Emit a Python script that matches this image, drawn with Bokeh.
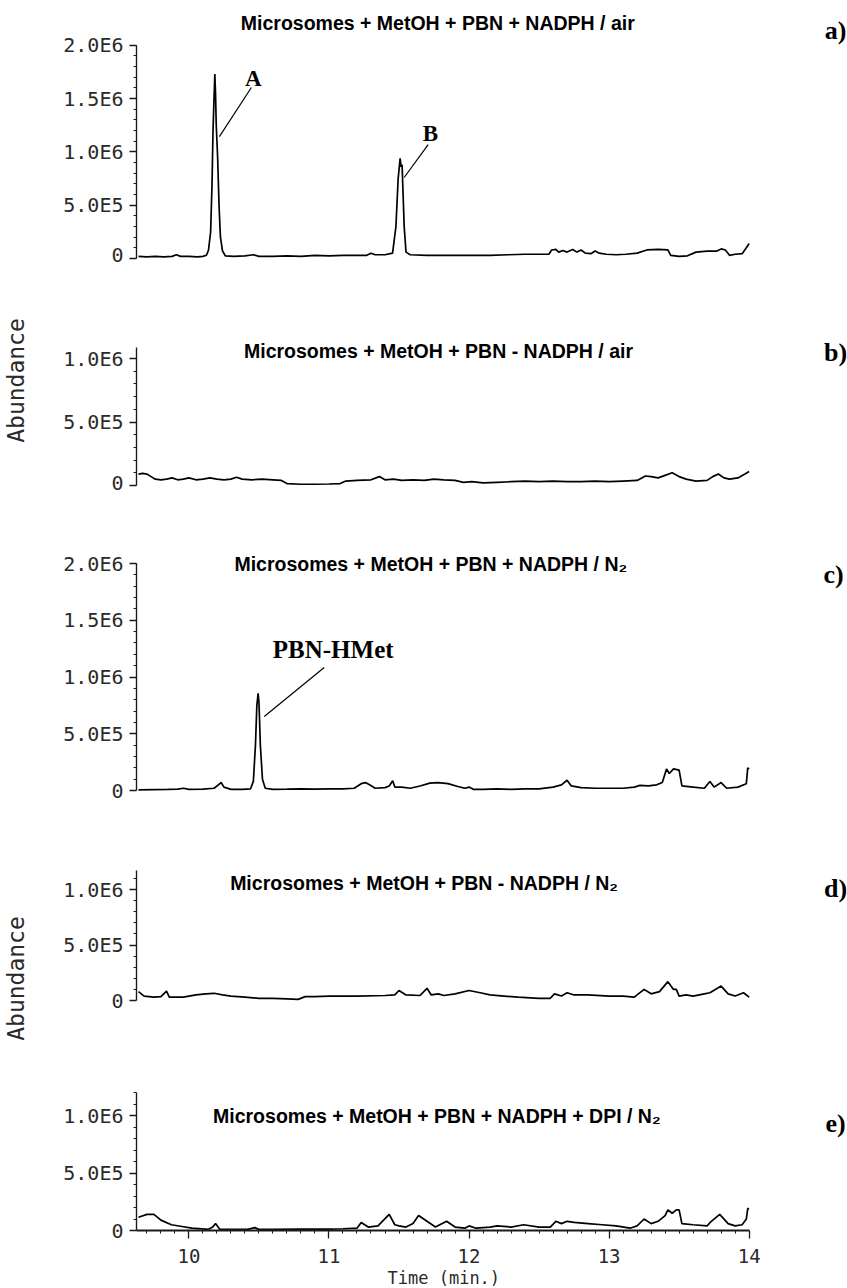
from math import pi, floor
from bokeh.plotting import figure
from bokeh.layouts import column
from bokeh.models import Range1d, FixedTicker, Label, Title
from bokeh.embed import file_html
from bokeh.resources import INLINE

# ---------------- data: (time [min], abundance [millions]) ----------------
trace_a = [(9.64,0.02),(9.70,0.015),(9.76,0.02),(9.82,0.015),(9.88,0.02),(9.91,0.035),(9.94,0.02),(10.00,0.02),
           (10.06,0.015),(10.10,0.02),(10.125,0.03),(10.14,0.08),(10.155,0.25),(10.165,0.7),(10.172,1.2),(10.178,1.45),
           (10.185,1.73),(10.19,1.55),(10.195,1.25),(10.205,0.95),(10.215,0.5),(10.225,0.2),(10.24,0.07),(10.26,0.025),
           (10.32,0.02),(10.40,0.025),(10.46,0.035),(10.50,0.02),(10.60,0.02),(10.70,0.025),(10.80,0.02),(10.90,0.03),
           (11.00,0.025),(11.10,0.03),(11.20,0.03),(11.27,0.03),(11.30,0.05),(11.33,0.035),(11.40,0.035),(11.454,0.05),
           (11.478,0.3),(11.494,0.75),(11.508,0.94),(11.515,0.86),(11.522,0.88),(11.537,0.3),(11.55,0.06),(11.58,0.035),
           (11.70,0.03),(11.85,0.03),(12.00,0.03),(12.15,0.03),(12.28,0.035),(12.40,0.04),(12.50,0.04),(12.57,0.04),
           (12.59,0.08),(12.62,0.085),(12.64,0.06),(12.67,0.075),(12.70,0.06),(12.74,0.085),(12.77,0.06),(12.80,0.08),
           (12.83,0.05),(12.87,0.045),(12.90,0.07),(12.93,0.05),(12.98,0.04),(13.05,0.035),(13.12,0.04),(13.20,0.05),
           (13.27,0.08),(13.35,0.085),(13.42,0.08),(13.44,0.03),(13.50,0.02),(13.56,0.025),(13.62,0.06),(13.70,0.07),
           (13.77,0.07),(13.80,0.09),(13.83,0.08),(13.86,0.03),(13.90,0.04),(13.95,0.045),(13.98,0.1),(14.00,0.14)]

trace_b = [(9.64,0.09),(9.67,0.095),(9.70,0.09),(9.73,0.07),(9.76,0.05),(9.80,0.045),(9.84,0.05),(9.88,0.06),
           (9.92,0.045),(9.96,0.05),(10.00,0.06),(10.05,0.045),(10.10,0.05),(10.15,0.06),(10.20,0.05),(10.25,0.045),
           (10.30,0.05),(10.34,0.065),(10.38,0.05),(10.45,0.045),(10.52,0.05),(10.60,0.045),(10.66,0.04),(10.70,0.015),
           (10.80,0.01),(10.90,0.01),(11.00,0.012),(11.08,0.015),(11.12,0.035),(11.20,0.04),(11.30,0.045),(11.36,0.07),
           (11.40,0.045),(11.46,0.05),(11.52,0.04),(11.60,0.045),(11.68,0.04),(11.75,0.05),(11.82,0.045),(11.90,0.04),
           (11.96,0.025),(12.02,0.03),(12.10,0.02),(12.20,0.025),(12.30,0.03),(12.40,0.035),(12.50,0.03),(12.60,0.035),
           (12.70,0.03),(12.80,0.03),(12.90,0.035),(13.00,0.03),(13.10,0.035),(13.20,0.04),(13.26,0.075),(13.30,0.07),
           (13.35,0.06),(13.40,0.08),(13.45,0.1),(13.50,0.07),(13.55,0.05),(13.62,0.035),(13.70,0.04),(13.74,0.07),
           (13.78,0.09),(13.82,0.06),(13.86,0.05),(13.92,0.06),(13.97,0.09),(14.00,0.11)]

trace_c = [(9.64,0.005),(9.75,0.008),(9.85,0.01),(9.92,0.012),(9.96,0.02),(10.00,0.01),(10.10,0.012),(10.18,0.02),
           (10.21,0.05),(10.23,0.07),(10.25,0.03),(10.30,0.01),(10.38,0.01),(10.44,0.015),(10.46,0.08),(10.475,0.4),
           (10.485,0.75),(10.494,0.855),(10.50,0.78),(10.51,0.4),(10.525,0.1),(10.545,0.02),(10.60,0.01),(10.70,0.012),
           (10.80,0.015),(10.90,0.012),(11.00,0.015),(11.10,0.015),(11.18,0.02),(11.23,0.06),(11.26,0.07),(11.29,0.05),
           (11.33,0.02),(11.40,0.025),(11.43,0.04),(11.455,0.085),(11.47,0.03),(11.52,0.03),(11.58,0.02),(11.65,0.04),
           (11.72,0.065),(11.78,0.07),(11.85,0.06),(11.92,0.035),(11.97,0.02),(12.00,0.03),(12.03,0.01),(12.10,0.01),
           (12.20,0.015),(12.30,0.01),(12.40,0.015),(12.50,0.015),(12.60,0.03),(12.66,0.05),(12.70,0.09),(12.73,0.04),
           (12.80,0.025),(12.90,0.02),(13.00,0.02),(13.10,0.02),(13.18,0.03),(13.22,0.045),(13.28,0.04),(13.34,0.05),
           (13.38,0.07),(13.41,0.19),(13.43,0.15),(13.46,0.19),(13.50,0.18),(13.52,0.04),(13.60,0.03),(13.68,0.02),
           (13.72,0.08),(13.75,0.03),(13.80,0.07),(13.84,0.02),(13.92,0.03),(13.98,0.06),(13.99,0.2),(14.00,0.19)]

trace_d = [(9.64,0.08),(9.68,0.04),(9.75,0.03),(9.80,0.035),(9.84,0.085),(9.86,0.03),(9.90,0.03),(9.96,0.03),
           (10.05,0.05),(10.12,0.06),(10.18,0.065),(10.24,0.05),(10.30,0.04),(10.40,0.03),(10.50,0.02),(10.60,0.02),
           (10.70,0.015),(10.78,0.01),(10.83,0.035),(10.90,0.035),(11.00,0.04),(11.20,0.04),(11.40,0.045),(11.47,0.05),
           (11.50,0.09),(11.55,0.05),(11.65,0.045),(11.70,0.11),(11.73,0.05),(11.78,0.06),(11.82,0.045),(11.90,0.06),
           (12.00,0.09),(12.08,0.07),(12.15,0.05),(12.25,0.04),(12.35,0.03),(12.50,0.02),(12.58,0.02),(12.61,0.06),
           (12.66,0.04),(12.70,0.07),(12.75,0.05),(12.85,0.05),(13.00,0.04),(13.10,0.04),(13.18,0.03),(13.25,0.1),
           (13.30,0.06),(13.36,0.08),(13.42,0.17),(13.46,0.1),(13.48,0.1),(13.50,0.04),(13.55,0.05),(13.60,0.04),
           (13.68,0.06),(13.72,0.07),(13.80,0.13),(13.85,0.06),(13.90,0.04),(13.96,0.07),(14.00,0.03)]

trace_e = [(9.64,0.115),(9.70,0.14),(9.75,0.14),(9.80,0.09),(9.875,0.05),(9.95,0.035),(10.02,0.02),(10.14,0.01),
           (10.17,0.03),(10.19,0.06),(10.22,0.01),(10.30,0.01),(10.42,0.01),(10.47,0.025),(10.50,0.01),(10.60,0.01),
           (10.80,0.012),(11.00,0.012),(11.10,0.015),(11.20,0.02),(11.23,0.07),(11.28,0.03),(11.35,0.04),(11.43,0.14),
           (11.47,0.05),(11.50,0.04),(11.55,0.03),(11.60,0.06),(11.64,0.13),(11.70,0.08),(11.76,0.03),(11.84,0.08),
           (11.90,0.03),(11.97,0.02),(12.00,0.04),(12.05,0.02),(12.15,0.03),(12.20,0.04),(12.30,0.03),(12.39,0.05),
           (12.50,0.03),(12.58,0.03),(12.62,0.08),(12.66,0.06),(12.70,0.08),(12.75,0.07),(12.85,0.06),(12.95,0.05),
           (13.05,0.04),(13.15,0.02),(13.20,0.04),(13.25,0.1),(13.30,0.06),(13.35,0.08),(13.40,0.13),(13.42,0.18),
           (13.45,0.15),(13.48,0.18),(13.50,0.18),(13.52,0.06),(13.60,0.05),(13.70,0.04),(13.73,0.08),(13.79,0.14),
           (13.85,0.06),(13.90,0.04),(13.95,0.05),(13.98,0.1),(13.99,0.19),(14.00,0.19)]

y_ticks_big = [0, 0.5, 1.0, 1.5, 2.0]
y_labels_big = ["0", "5.0E5", "1.0E6", "1.5E6", "2.0E6"]
y_ticks_small = [0, 0.5, 1.0]
y_labels_small = ["0", "5.0E5", "1.0E6"]
x_ticks = [10, 11, 12, 13, 14]
x_labels = ["10", "11", "12", "13", "14"]

titles = ["Microsomes + MetOH + PBN + NADPH  / air",
          "Microsomes + MetOH + PBN - NADPH / air",
          "Microsomes + MetOH + PBN + NADPH  / N\u2082",
          "Microsomes + MetOH + PBN  - NADPH  / N\u2082",
          "Microsomes + MetOH + PBN + NADPH + DPI  / N\u2082"]
tags = ["a)", "b)", "c)", "d)", "e)"]
y_axis_title = "Abundance"
x_axis_title = "Time (min.)"

# ---------------- layout (page pixels; Bokeh page has no body margin) ----------------
W = 847
AX_X = 135                 # page x of the y axes
PX_PER_MIN = 140.25
X10 = 187.5                # page x of t = 10 min
X0 = 10 + (AX_X - X10) / PX_PER_MIN
X1 = 10 + (W - X10) / PX_PER_MIN
X_AXIS_END = 14.0
TIME_LABEL_LEFT = 386      # page x where "Time (min.)" starts

TICK_FONT = "DejaVu Sans Mono"
TITLE_FONT = "Liberation Sans"
SERIF = "Liberation Serif"
INK = "#1a1a1a"
GREY = "#2a2a2a"

panels = [
    dict(top=0,    bot=266,  fbot=266,  zero=258,  k=106.6, ytop=2.0,   big=True,  ylab=False),
    dict(top=266,  bot=494,  fbot=494,  zero=485,  k=127.0, ytop=1.087, big=False, ylab=True),
    dict(top=494,  bot=866,  fbot=866,  zero=790,  k=113.5, ytop=2.0,   big=True,  ylab=False),
    dict(top=866,  bot=1090, fbot=1090, zero=1000, k=111.0, ytop=1.17,  big=False, ylab=True),
    dict(top=1090, bot=1288, fbot=1230, zero=1230, k=115.0, ytop=1.2,   big=False, ylab=False),
]
title_pos = [(439, 22), (437, 350), (432, 563), (428, 882), (438, 1115)]
tag_pos = [(834, 30), (834, 352), (832, 574), (834, 888), (834, 1123)]
traces = [trace_a, trace_b, trace_c, trace_d, trace_e]


def add_page_label(p, cfg, px, py, text, **kw):
    p.add_layout(Label(x=px - AX_X, y=cfg["fbot"] - py, x_units="screen", y_units="screen",
                       text=text, text_align="center", text_baseline="middle", **kw))


figs = []
for i, cfg in enumerate(panels):
    last = i == len(panels) - 1
    h = cfg["bot"] - cfg["top"]
    ftop = cfg["top"]
    y_lo = -(cfg["fbot"] - cfg["zero"]) / cfg["k"]
    y_hi = (cfg["zero"] - ftop) / cfg["k"]
    p = figure(width=W, height=h, output_backend="svg", toolbar_location=None,
               x_range=Range1d(X0, X1), y_range=Range1d(y_lo, y_hi),
               x_axis_location="below" if last else None, y_axis_location="left",
               min_border_left=AX_X, min_border_right=0, min_border_top=0,
               min_border_bottom=cfg["bot"] - cfg["fbot"])
    p.outline_line_color = None
    p.grid.visible = False
    p.background_fill_color = "white"
    p.border_fill_color = "white"

    ticks = y_ticks_big if cfg["big"] else y_ticks_small
    labels = y_labels_big if cfg["big"] else y_labels_small
    nminor = int(floor(cfg["ytop"] / 0.1 + 1e-6))
    minor = [round(0.1 * k, 3) for k in range(1, nminor + 1)]
    ya = p.yaxis[0]
    ya.bounds = (0, cfg["ytop"])
    ya.ticker = FixedTicker(ticks=ticks, minor_ticks=minor)
    ya.major_label_overrides = {t: l for t, l in zip(ticks, labels)}
    ya.axis_line_color = INK
    ya.axis_line_width = 1.4
    ya.major_tick_out = 7
    ya.major_tick_in = 0
    ya.minor_tick_out = 3
    ya.minor_tick_in = 0
    ya.major_tick_line_color = INK
    ya.minor_tick_line_color = INK
    ya.major_tick_line_width = 1.3
    ya.major_label_text_font = TICK_FONT
    ya.major_label_text_font_size = "20px"
    ya.major_label_text_color = GREY
    ya.major_label_standoff = 6
    if cfg["ylab"]:
        ya.axis_label = y_axis_title
        ya.axis_label_text_font = TICK_FONT
        ya.axis_label_text_font_size = "23px"
        ya.axis_label_text_font_style = "normal"
        ya.axis_label_text_color = GREY
        ya.axis_label_standoff = 31

    if last:
        xa = p.xaxis[0]
        xa.bounds = (X0, X_AXIS_END)
        xminor = [round(9.7 + 0.1 * k, 2) for k in range(43)]
        xa.ticker = FixedTicker(ticks=x_ticks, minor_ticks=xminor)
        xa.major_label_overrides = {t: l for t, l in zip(x_ticks, x_labels)}
        xa.axis_line_color = INK
        xa.axis_line_width = 1.8
        xa.major_tick_out = 8
        xa.major_tick_in = 0
        xa.minor_tick_out = 3
        xa.minor_tick_in = 0
        xa.major_tick_line_color = INK
        xa.minor_tick_line_color = INK
        xa.major_tick_line_width = 1.3
        xa.major_label_text_font = TICK_FONT
        xa.major_label_text_font_size = "19px"
        xa.major_label_text_color = GREY
        xa.major_label_standoff = 10
        p.add_layout(Title(text=x_axis_title, align="left", offset=TIME_LABEL_LEFT - AX_X,
                           text_font=TICK_FONT, text_font_size="17px", text_font_style="normal",
                           text_color=GREY, standoff=0), "below")

    tr = traces[i]
    p.line([t for t, _ in tr], [v for _, v in tr], line_color="black", line_width=1.7)

    add_page_label(p, cfg, title_pos[i][0], title_pos[i][1], titles[i],
                   text_font=TITLE_FONT, text_font_style="bold", text_font_size="19.5px", text_color="black")
    add_page_label(p, cfg, tag_pos[i][0], tag_pos[i][1], tags[i],
                   text_font=SERIF, text_font_style="bold", text_font_size="26px", text_color="black")
    figs.append(p)

# peak annotations: label position and leader line (data coordinates)
peak_notes = [
    (0, "A", (10.46, 1.689), (10.446, 1.604), (10.2175, 1.144), "23px"),
    (0, "B", (11.725, 1.168), (11.708, 1.069), (11.537, 0.760), "23px"),
    (2, "PBN-HMet", (11.03, 1.242), (10.966, 1.084), (10.538, 0.652), "25px"),
]
for idx, name, lab, l0, l1, fs in peak_notes:
    p = figs[idx]
    p.add_layout(Label(x=lab[0], y=lab[1], text=name, text_align="center", text_baseline="middle",
                       text_font=SERIF, text_font_style="bold", text_font_size=fs, text_color="black"))
    p.segment(x0=[l0[0]], y0=[l0[1]], x1=[l1[0]], y1=[l1[1]], line_color="black", line_width=1.2)

layout = column(*figs, spacing=0)
open("out.html", "w").write(file_html(layout, INLINE))
